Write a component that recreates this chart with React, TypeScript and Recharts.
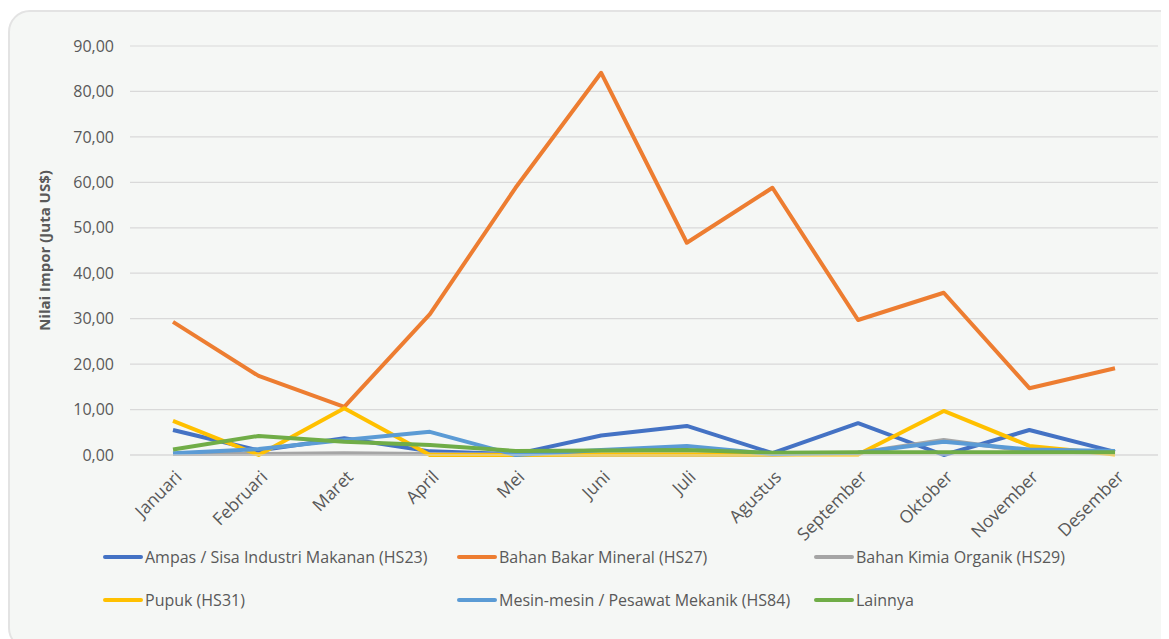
import { LineChart, Line, XAxis, YAxis, CartesianGrid, Legend } from 'recharts'

const months = [
  'Januari', 'Februari', 'Maret', 'April', 'Mei', 'Juni',
  'Juli', 'Agustus', 'September', 'Oktober', 'November', 'Desember',
]

const hs23 = [5.5, 1.0, 3.7, 0.8, 0.2, 4.3, 6.4, 0.4, 7.0, 0.0, 5.5, 0.7]
const hs27 = [29.3, 17.4, 10.6, 31.0, 58.8, 84.1, 46.7, 58.8, 29.7, 35.7, 14.7, 19.1]
const hs29 = [0.2, 0.2, 0.4, 0.2, 0.1, 0.1, 0.1, 0.1, 0.5, 3.3, 0.8, 0.5]
const hs31 = [7.5, 0.0, 10.3, 0.0, 0.0, 0.1, 0.1, 0.1, 0.1, 9.7, 2.0, 0.1]
const hs84 = [0.4, 1.3, 3.3, 5.1, 0.0, 1.1, 2.0, 0.2, 0.5, 2.9, 1.2, 0.9]
const lainnya = [1.2, 4.2, 2.9, 2.2, 0.9, 1.0, 1.1, 0.5, 0.6, 0.6, 0.6, 0.6]

const yTicks = [0, 10, 20, 30, 40, 50, 60, 70, 80, 90]

const series = [
  { key: 'hs23', name: 'Ampas / Sisa Industri Makanan (HS23)', color: '#4472C4' },
  { key: 'hs27', name: 'Bahan Bakar Mineral (HS27)', color: '#ED7D31' },
  { key: 'hs29', name: 'Bahan Kimia Organik (HS29)', color: '#A5A5A5' },
  { key: 'hs31', name: 'Pupuk (HS31)', color: '#FFC000' },
  { key: 'hs84', name: 'Mesin-mesin / Pesawat Mekanik (HS84)', color: '#5B9BD5' },
  { key: 'lainnya', name: 'Lainnya', color: '#70AD47' },
]

const data = months.map((m, i) => ({
  month: m,
  hs23: hs23[i],
  hs27: hs27[i],
  hs29: hs29[i],
  hs31: hs31[i],
  hs84: hs84[i],
  lainnya: lainnya[i],
}))

const font = '"Open Sans", sans-serif'
const textColor = '#595959'

const fmt = (v: number) => v.toFixed(2).replace('.', ',')

const MonthTick = ({ x, y, payload }: { x?: number; y?: number; payload?: { value: string } }) => {
  const tx = (x ?? 0) + 10
  const ty = (y ?? 0) + 15
  return (
    <text
      x={tx}
      y={ty}
      transform={`rotate(-45, ${tx}, ${ty})`}
      textAnchor="end"
      fill={textColor}
      fontSize={17.5}
      fontFamily={font}
    >
      {payload?.value}
    </text>
  )
}

const legendLefts = [93, 447, 804]

const LegendBox = () => (
  <div style={{ position: 'relative', width: 1160, height: 86, fontFamily: font }}>
    {series.map((s, i) => (
      <div
        key={s.key}
        style={{
          position: 'absolute',
          left: legendLefts[i % 3],
          top: 1 + Math.floor(i / 3) * 43,
          height: 34,
          display: 'flex',
          alignItems: 'center',
          fontSize: 16,
          color: textColor,
          whiteSpace: 'nowrap',
        }}
      >
        <span
          style={{
            display: 'inline-block',
            width: 40,
            height: 4,
            borderRadius: 2,
            background: s.color,
            marginRight: 2,
          }}
        />
        {s.name}
      </div>
    ))}
  </div>
)

export default function App() {
  return (
    <div
      style={{
        marginTop: 2,
        width: 1180,
        height: 640,
        background: '#f5f7f5',
        border: '2px solid #e3e3e3',
        borderRadius: 22,
        boxSizing: 'border-box',
        overflow: 'hidden',
      }}
    >
      <style>{'body{overflow:hidden}'}</style>
      <LineChart
        width={1160}
        height={630}
        data={data}
        margin={{ top: 34, right: 12, left: 0, bottom: 17 }}
      >
        <CartesianGrid vertical={false} stroke="#d9d9d9" strokeWidth={1.2} />
        <XAxis
          dataKey="month"
          height={84}
          interval={0}
          padding={{ left: 43, right: 43 }}
          tickLine={false}
          axisLine={{ stroke: '#d9d9d9' }}
          tick={<MonthTick />}
        />
        <YAxis
          width={120}
          domain={[0, 90]}
          ticks={yTicks}
          tickFormatter={fmt}
          tickLine={false}
          axisLine={false}
          tickMargin={10}
          tick={{ fill: textColor, fontSize: 16, fontFamily: font }}
          label={{
            value: 'Nilai Impor (Juta US$)',
            angle: -90,
            position: 'center',
            dx: -25,
            fill: textColor,
            fontSize: 15,
            fontWeight: 700,
            fontFamily: font,
          }}
        />
        <Legend verticalAlign="bottom" wrapperStyle={{ left: 0, width: 1160 }} content={<LegendBox />} />
        {series.map((s) => (
          <Line
            key={s.key}
            type="linear"
            dataKey={s.key}
            name={s.name}
            stroke={s.color}
            strokeWidth={4}
            strokeLinejoin="round"
            dot={false}
            activeDot={false}
            isAnimationActive={false}
          />
        ))}
      </LineChart>
    </div>
  )
}
